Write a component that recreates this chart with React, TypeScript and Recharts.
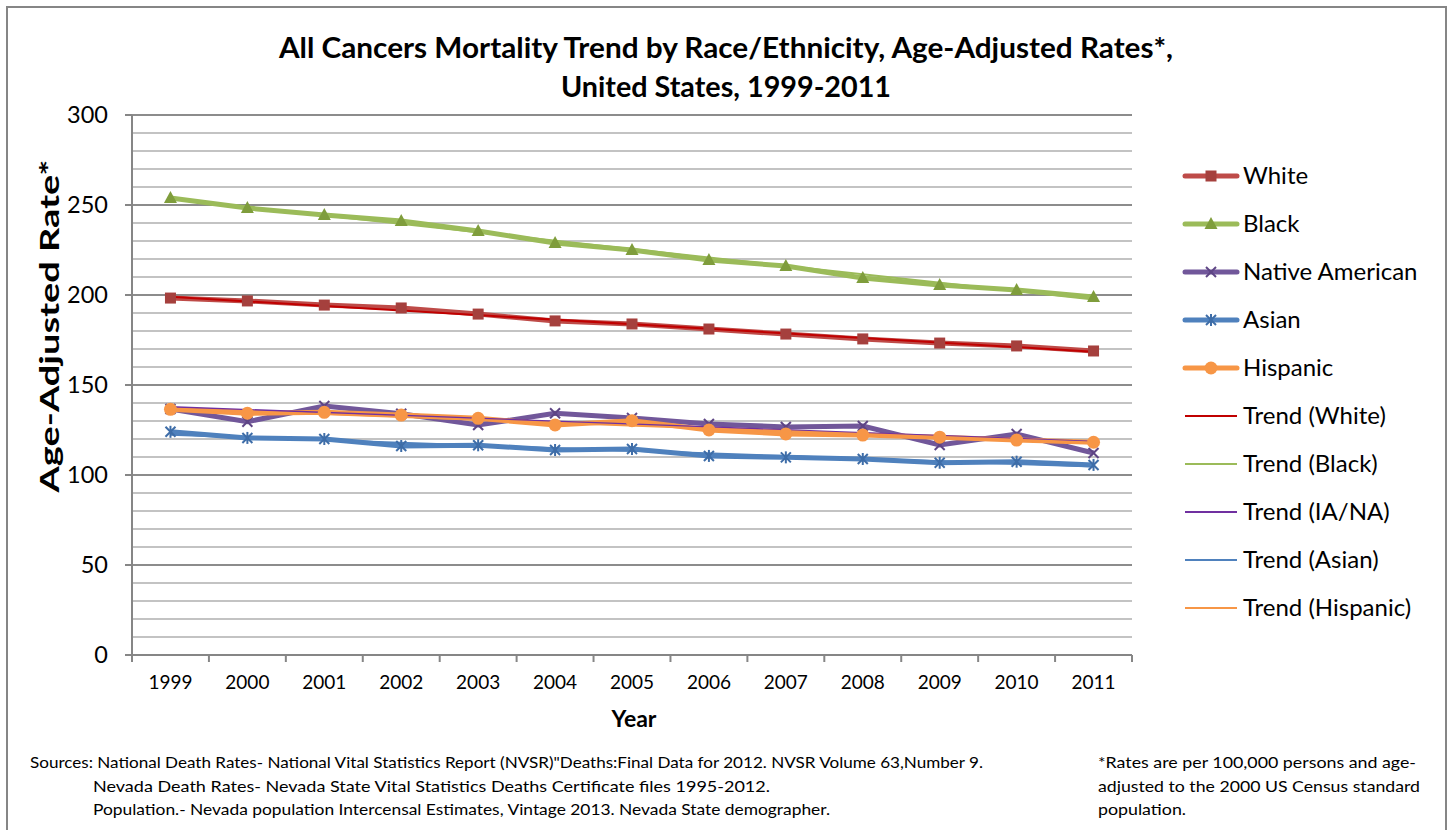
import React from 'react';
import { LineChart, Line, XAxis, YAxis, CartesianGrid } from 'recharts';

// ---------- data ----------
const years = ['1999', '2000', '2001', '2002', '2003', '2004', '2005', '2006', '2007', '2008', '2009', '2010', '2011'];
const white = [198.3, 196.7, 194.4, 192.8, 189.4, 185.6, 183.9, 181.1, 178.3, 175.6, 173.3, 171.7, 168.9];
const black = [253.9, 248.3, 244.4, 241.1, 235.6, 228.9, 225.0, 219.4, 216.1, 209.4, 205.6, 202.8, 198.9];
const nativeAmerican = [136.7, 129.6, 138.3, 134.0, 127.8, 134.3, 131.7, 128.3, 126.7, 127.2, 116.7, 122.8, 112.2];
const asian = [124.0, 120.6, 120.0, 116.1, 116.5, 113.9, 114.4, 110.6, 109.8, 108.9, 106.8, 107.4, 105.6];
const hispanic = [136.5, 134.3, 134.8, 133.3, 131.5, 127.8, 130.2, 125.0, 122.8, 122.2, 121.0, 119.4, 118.2];

// trend lines: values read at the first and last year (straight lines)
const trendWhiteEnds = [199.0, 168.5];
const trendBlackEnds = [253.5, 197.5];
const trendNativeEnds = [137.8, 118.5];
const trendAsianEnds = [122.3, 104.7];
const trendHispanicEnds = [137.0, 118.0];

const yTicks = [0, 50, 100, 150, 200, 250, 300];
const majorGridValues = [50, 100, 150, 200, 250, 300];
const minorGridValues = [10, 20, 30, 40, 60, 70, 80, 90, 110, 120, 130, 140, 160, 170, 180, 190, 210, 220, 230, 240, 260, 270, 280, 290];

const titleLines = [
  'All Cancers Mortality Trend by Race/Ethnicity, Age-Adjusted Rates*,',
  'United States, 1999-2011',
];
const yAxisTitle = 'Age-Adjusted Rate*';
const xAxisTitle = 'Year';
const sourceLines = [
  'Sources: National Death Rates- National Vital Statistics Report (NVSR)"Deaths:Final Data for 2012. NVSR Volume 63,Number 9.',
  'Nevada Death Rates- Nevada State Vital Statistics Deaths Certificate files 1995-2012.',
  'Population.- Nevada population Intercensal Estimates, Vintage 2013. Nevada State demographer.',
];
const noteLines = [
  '*Rates are per 100,000 persons  and age-',
  'adjusted to the 2000  US  Census standard',
  'population.',
];

// ---------- layout / style ----------
const W = 1453;
const H = 830;
const PLOT_LEFT = 132;
const PLOT_RIGHT = 1132;
const PLOT_TOP = 115;
const PLOT_BOTTOM = 655;
const BAND = (PLOT_RIGHT - PLOT_LEFT) / years.length;
const AXIS = '#868686';
const FONT = 'Lato, "Open Sans", sans-serif';

const last = years.length - 1;
const ends = (e: number[], i: number) => (i === 0 ? e[0] : i === last ? e[1] : null);

const data = years.map((year, i) => ({
  year,
  white: white[i],
  black: black[i],
  nativeAmerican: nativeAmerican[i],
  asian: asian[i],
  hispanic: hispanic[i],
  trendWhite: ends(trendWhiteEnds, i),
  trendBlack: ends(trendBlackEnds, i),
  trendNative: ends(trendNativeEnds, i),
  trendAsian: ends(trendAsianEnds, i),
  trendHispanic: ends(trendHispanicEnds, i),
}));

type MarkerKind = 'square' | 'triangle' | 'x' | 'star' | 'circle';

const Marker = ({ kind, cx, cy, color }: { kind: MarkerKind; cx: number; cy: number; color: string }) => {
  if (kind === 'square') return <rect x={cx - 5.5} y={cy - 5.5} width={11} height={11} fill={color} />;
  if (kind === 'triangle')
    return <polygon points={`${cx},${cy - 7} ${cx - 6.5},${cy + 5} ${cx + 6.5},${cy + 5}`} fill={color} />;
  if (kind === 'circle') return <circle cx={cx} cy={cy} r={6.5} fill={color} />;
  if (kind === 'x')
    return (
      <g stroke={color} strokeWidth={2}>
        <line x1={cx - 5} y1={cy - 5} x2={cx + 5} y2={cy + 5} />
        <line x1={cx - 5} y1={cy + 5} x2={cx + 5} y2={cy - 5} />
      </g>
    );
  return (
    <g stroke={color} strokeWidth={2}>
      <line x1={cx - 5} y1={cy - 5} x2={cx + 5} y2={cy + 5} />
      <line x1={cx - 5} y1={cy + 5} x2={cx + 5} y2={cy - 5} />
      <line x1={cx} y1={cy - 6} x2={cx} y2={cy + 6} />
    </g>
  );
};

const makeDot = (kind: MarkerKind, color: string) => (props: any) => {
  const { cx, cy, index } = props;
  if (cx == null || cy == null) return <g key={`d-${index}`} />;
  return (
    <g key={`d-${kind}-${index}`}>
      <Marker kind={kind} cx={cx} cy={cy} color={color} />
    </g>
  );
};

const series = [
  { key: 'white', name: 'White', color: '#BE4B48', marker: '#A5403D', kind: 'square' as MarkerKind },
  { key: 'black', name: 'Black', color: '#9BBB59', marker: '#7F9D3C', kind: 'triangle' as MarkerKind },
  { key: 'nativeAmerican', name: 'Native American', color: '#71579A', marker: '#5E4585', kind: 'x' as MarkerKind },
  { key: 'asian', name: 'Asian', color: '#4F81BD', marker: '#3E6DA8', kind: 'star' as MarkerKind },
  { key: 'hispanic', name: 'Hispanic', color: '#F79646', marker: '#F79646', kind: 'circle' as MarkerKind },
];
const trends = [
  { key: 'trendWhite', name: 'Trend (White)', color: '#C00000' },
  { key: 'trendBlack', name: 'Trend (Black)', color: '#9BBB59' },
  { key: 'trendNative', name: 'Trend (IA/NA)', color: '#7030A0' },
  { key: 'trendAsian', name: 'Trend (Asian)', color: '#4F81BD' },
  { key: 'trendHispanic', name: 'Trend (Hispanic)', color: '#F79646' },
];
// the black trend lies beneath the thick Black line in the reference
const underTrends = trends.filter((t) => t.key === 'trendBlack');
const overTrends = trends.filter((t) => t.key !== 'trendBlack');

const XTick = (props: any) => {
  const { x, payload, index } = props;
  const half = BAND / 2;
  return (
    <g>
      <line x1={x - half} y1={PLOT_BOTTOM} x2={x - half} y2={PLOT_BOTTOM + 7} stroke={AXIS} strokeWidth={2} />
      {index === last && (
        <line x1={x + half} y1={PLOT_BOTTOM} x2={x + half} y2={PLOT_BOTTOM + 7} stroke={AXIS} strokeWidth={2} />
      )}
      <text x={x} y={PLOT_BOTTOM + 34} textAnchor="middle" fontSize={19} fill="#000" fontFamily={FONT}>
        {payload.value}
      </text>
    </g>
  );
};

const Legend = () => {
  const items = [
    ...series.map((s) => ({ name: s.name, color: s.color, marker: s.marker, kind: s.kind as MarkerKind | null, w: 5 })),
    ...trends.map((t) => ({ name: t.name, color: t.color, marker: t.color, kind: null as MarkerKind | null, w: 2 })),
  ];
  return (
    <g>
      {items.map((it, i) => {
        const y = 176 + i * 48;
        return (
          <g key={it.name}>
            <line
              x1={1185}
              x2={1237}
              y1={y}
              y2={y}
              stroke={it.color}
              strokeWidth={it.w}
              strokeLinecap={it.kind ? 'round' : 'butt'}
            />
            {it.kind && <Marker kind={it.kind} cx={1211} cy={y} color={it.marker} />}
            <text x={1243} y={y + 8} fontSize={24} fill="#000" fontFamily={FONT}>
              {it.name}
            </text>
          </g>
        );
      })}
    </g>
  );
};

const trendLine = (t: { key: string; name: string; color: string }) => (
  <Line
    key={t.key}
    type="linear"
    dataKey={t.key}
    name={t.name}
    stroke={t.color}
    strokeWidth={2}
    dot={false}
    activeDot={false}
    connectNulls
    isAnimationActive={false}
  />
);

export default function App() {
  return (
    <div style={{ position: 'absolute', left: 0, top: 0, width: W, height: H, background: '#fff', fontFamily: FONT, overflow: 'hidden' }}>
      <LineChart
        width={W}
        height={H}
        data={data}
        margin={{ top: PLOT_TOP, right: W - PLOT_RIGHT, bottom: H - PLOT_BOTTOM - 30, left: PLOT_LEFT - 60 }}
      >
        <CartesianGrid vertical={false} horizontalValues={minorGridValues} stroke="#C3C3C3" strokeWidth={2} />
        <CartesianGrid vertical={false} horizontalValues={majorGridValues} stroke="#8C8C8C" strokeWidth={2} />
        <XAxis
          dataKey="year"
          height={30}
          padding={{ left: BAND / 2, right: BAND / 2 }}
          axisLine={{ stroke: AXIS, strokeWidth: 2 }}
          tickLine={false}
          tick={<XTick />}
          interval={0}
        />
        <YAxis
          width={60}
          domain={[0, 300]}
          ticks={yTicks}
          interval={0}
          axisLine={{ stroke: AXIS, strokeWidth: 2 }}
          tickLine={{ stroke: AXIS, strokeWidth: 2 }}
          tickSize={7}
          tickMargin={17}
          tick={{ fontSize: 23.5, fill: '#000', fontFamily: FONT }}
        />
        {underTrends.map(trendLine)}
        {series.map((s) => (
          <Line
            key={s.key}
            type="linear"
            dataKey={s.key}
            name={s.name}
            stroke={s.color}
            strokeWidth={5}
            dot={makeDot(s.kind, s.marker)}
            activeDot={false}
            isAnimationActive={false}
          />
        ))}
        {overTrends.map(trendLine)}
      </LineChart>
      <svg width={W} height={H} style={{ position: 'absolute', left: 0, top: 0, pointerEvents: 'none' }}>
        <rect x={7} y={7} width={1439} height={840} fill="none" stroke={AXIS} strokeWidth={2} />
        <text x={726} y={58} textAnchor="middle" fontSize={28} fontWeight="bold" fill="#000" textLength={894} lengthAdjust="spacingAndGlyphs">
          {titleLines[0]}
        </text>
        <text x={726} y={97} textAnchor="middle" fontSize={28} fontWeight="bold" fill="#000" textLength={330} lengthAdjust="spacingAndGlyphs">
          {titleLines[1]}
        </text>
        <text
          x={59}
          y={326}
          transform="rotate(-90, 59, 326)"
          textAnchor="middle"
          fontSize={27}
          fontWeight="bold"
          fill="#000"
          textLength={333}
          lengthAdjust="spacingAndGlyphs"
        >
          {yAxisTitle}
        </text>
        <text x={634} y={727} textAnchor="middle" fontSize={23} fontWeight="bold" fill="#000">
          {xAxisTitle}
        </text>
        <Legend />
        <text x={30} y={768} fontSize={15} fill="#000" textLength={953} lengthAdjust="spacingAndGlyphs">{sourceLines[0]}</text>
        <text x={93} y={792} fontSize={15} fill="#000" textLength={677} lengthAdjust="spacingAndGlyphs">{sourceLines[1]}</text>
        <text x={93} y={815} fontSize={15} fill="#000" textLength={737} lengthAdjust="spacingAndGlyphs">{sourceLines[2]}</text>
        <text x={1098} y={768} fontSize={15} fill="#000" textLength={318} lengthAdjust="spacingAndGlyphs">{noteLines[0]}</text>
        <text x={1098} y={792} fontSize={15} fill="#000" textLength={322} lengthAdjust="spacingAndGlyphs">{noteLines[1]}</text>
        <text x={1098} y={815} fontSize={15} fill="#000" textLength={88} lengthAdjust="spacingAndGlyphs">{noteLines[2]}</text>
      </svg>
    </div>
  );
}
